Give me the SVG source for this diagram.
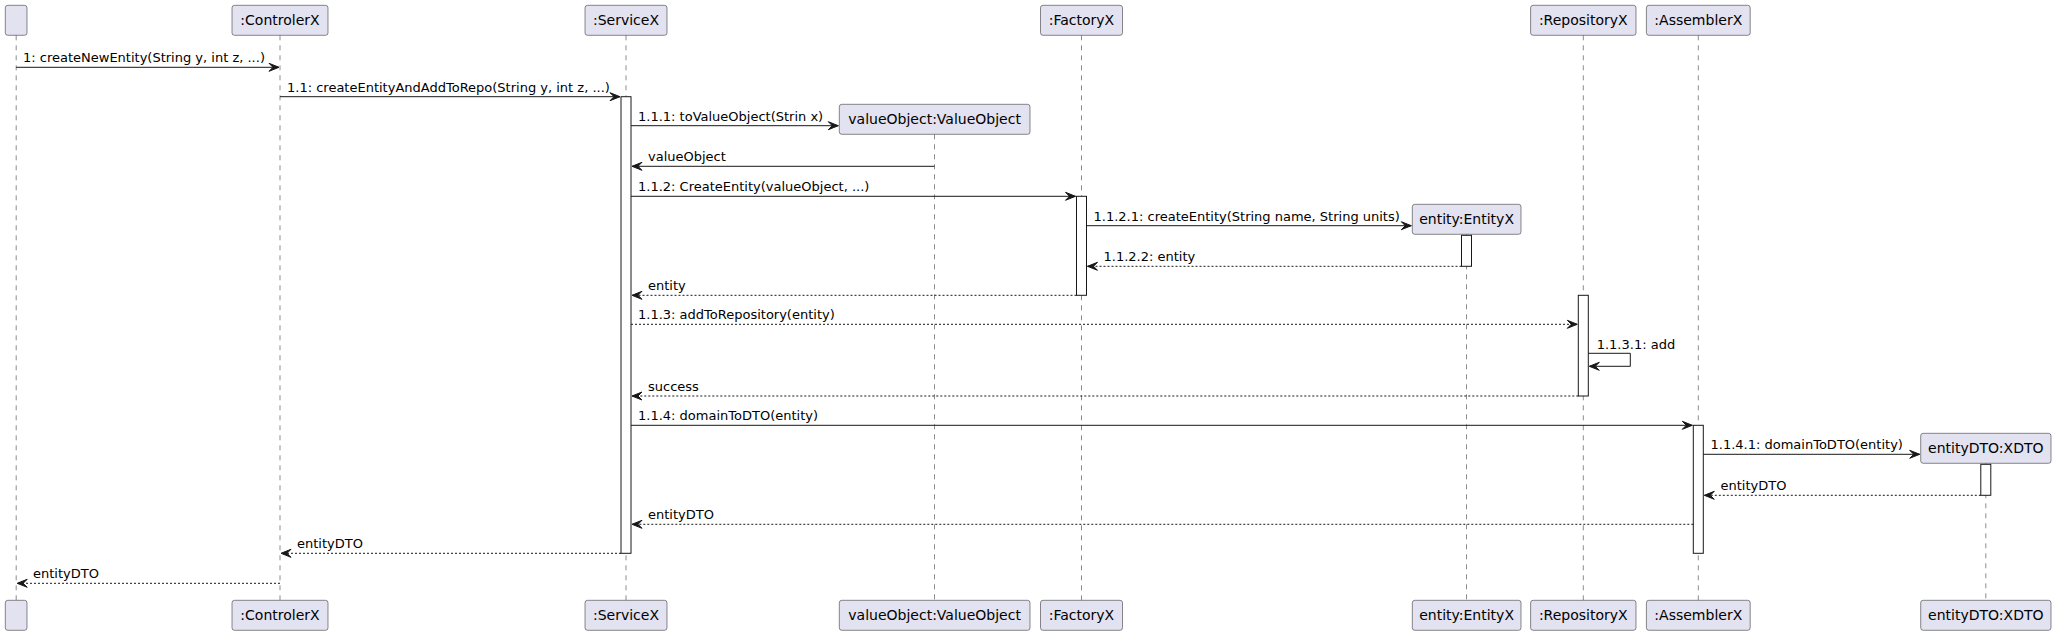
<svg xmlns="http://www.w3.org/2000/svg" width="2056" height="635" viewBox="0 0 2056 635">
<style>
.bg{fill:#FFFFFF}
.part rect{fill:#E2E2F0;stroke:#181818;stroke-width:0.5}
.part text,.plabel{font-family:"DejaVu Sans",sans-serif;font-size:14px;fill:#000000;text-anchor:middle}
.life{stroke:#181818;stroke-width:0.5;stroke-dasharray:5,5;fill:none}
.act{fill:#FFFFFF;stroke:#181818;stroke-width:1}
.msg{stroke:#181818;stroke-width:1;fill:none}
.ret{stroke:#181818;stroke-width:1;fill:none;stroke-dasharray:2,2}
.head{fill:#181818;stroke:#181818;stroke-width:1}
.mt{font-family:"DejaVu Sans",sans-serif;font-size:13px;fill:#000000}
</style>
<rect class="bg" x="0" y="0" width="2056" height="635"/>
<g id="lifelines">
<line class="life" x1="16.2" y1="35.3" x2="16.2" y2="600.3"/>
<line class="life" x1="280" y1="35.3" x2="280" y2="600.3"/>
<line class="life" x1="626" y1="35.3" x2="626" y2="600.3"/>
<line class="life" x1="934.5" y1="134.3" x2="934.5" y2="600.3"/>
<line class="life" x1="1081.5" y1="35.3" x2="1081.5" y2="600.3"/>
<line class="life" x1="1466.5" y1="234.3" x2="1466.5" y2="600.3"/>
<line class="life" x1="1583.3" y1="35.3" x2="1583.3" y2="600.3"/>
<line class="life" x1="1698.3" y1="35.3" x2="1698.3" y2="600.3"/>
<line class="life" x1="1985.8" y1="463.3" x2="1985.8" y2="600.3"/>
</g>
<g id="activations">
<rect class="act" x="621" y="96.7" width="10" height="456.6"/>
<rect class="act" x="1076.5" y="196.3" width="10" height="99"/>
<rect class="act" x="1461.5" y="235.3" width="10" height="31"/>
<rect class="act" x="1578.3" y="295.3" width="10" height="100.7"/>
<rect class="act" x="1693.3" y="425.3" width="10" height="128"/>
<rect class="act" x="1980.8" y="464.3" width="10" height="31"/>
</g>
<g id="p0" class="part">
<rect x="5.3" y="5.3" width="21.7" height="30" rx="2.5"/>
<rect x="5.3" y="600.3" width="21.7" height="30" rx="2.5"/>
</g>
<g id="controlerX" class="part">
<rect x="232" y="5.3" width="96" height="30" rx="2.5"/>
<text x="280" y="25.3">:ControlerX</text>
<rect x="232" y="600.3" width="96" height="30" rx="2.5"/>
<text x="280" y="620.3">:ControlerX</text>
</g>
<g id="serviceX" class="part">
<rect x="585" y="5.3" width="82" height="30" rx="2.5"/>
<text x="626" y="25.3">:ServiceX</text>
<rect x="585" y="600.3" width="82" height="30" rx="2.5"/>
<text x="626" y="620.3">:ServiceX</text>
</g>
<g id="valueObject" class="part">
<rect x="839.3" y="104.3" width="190.7" height="30" rx="2.5"/>
<text x="934.6" y="124.3">valueObject:ValueObject</text>
<rect x="839.3" y="600.3" width="190.7" height="30" rx="2.5"/>
<text x="934.6" y="620.3">valueObject:ValueObject</text>
</g>
<g id="factoryX" class="part">
<rect x="1040.5" y="5.3" width="82" height="30" rx="2.5"/>
<text x="1081.5" y="25.3">:FactoryX</text>
<rect x="1040.5" y="600.3" width="82" height="30" rx="2.5"/>
<text x="1081.5" y="620.3">:FactoryX</text>
</g>
<g id="entity" class="part">
<rect x="1412.3" y="204.3" width="108.7" height="30" rx="2.5"/>
<text x="1466.6" y="224.3">entity:EntityX</text>
<rect x="1412.3" y="600.3" width="108.7" height="30" rx="2.5"/>
<text x="1466.6" y="620.3">entity:EntityX</text>
</g>
<g id="repositoryX" class="part">
<rect x="1530.6" y="5.3" width="105.4" height="30" rx="2.5"/>
<text x="1583.3" y="25.3">:RepositoryX</text>
<rect x="1530.6" y="600.3" width="105.4" height="30" rx="2.5"/>
<text x="1583.3" y="620.3">:RepositoryX</text>
</g>
<g id="assemblerX" class="part">
<rect x="1646.4" y="5.3" width="103.8" height="30" rx="2.5"/>
<text x="1698.3" y="25.3">:AssemblerX</text>
<rect x="1646.4" y="600.3" width="103.8" height="30" rx="2.5"/>
<text x="1698.3" y="620.3">:AssemblerX</text>
</g>
<g id="entityDTO" class="part">
<rect x="1920.7" y="433.3" width="130.3" height="30" rx="2.5"/>
<text x="1985.8" y="453.3">entityDTO:XDTO</text>
<rect x="1920.7" y="600.3" width="130.3" height="30" rx="2.5"/>
<text x="1985.8" y="620.3">entityDTO:XDTO</text>
</g>
<g id="connectors">
<!-- 1 -->
<line class="msg" x1="16.2" y1="67.3" x2="279" y2="67.3"/>
<polygon class="head" points="269,63.3 279,67.3 269,71.3 273,67.3"/>
<text class="mt" x="23" y="62.3">1: createNewEntity(String y, int z, ...)</text>
<!-- 1.1 -->
<line class="msg" x1="280" y1="96.7" x2="620" y2="96.7"/>
<polygon class="head" points="610,92.7 620,96.7 610,100.7 614,96.7"/>
<text class="mt" x="287" y="91.7">1.1: createEntityAndAddToRepo(String y, int z, ...)</text>
<!-- 1.1.1 -->
<line class="msg" x1="631" y1="125.7" x2="838.3" y2="125.7"/>
<polygon class="head" points="828.3,121.7 838.3,125.7 828.3,129.7 832.3,125.7"/>
<text class="mt" x="638" y="120.7">1.1.1: toValueObject(Strin x)</text>
<!-- valueObject return -->
<line class="msg" x1="934.5" y1="166.3" x2="632" y2="166.3"/>
<polygon class="head" points="642,162.3 632,166.3 642,170.3 638,166.3"/>
<text class="mt" x="648" y="161.3">valueObject</text>
<!-- 1.1.2 -->
<line class="msg" x1="631" y1="196.3" x2="1075.5" y2="196.3"/>
<polygon class="head" points="1065.5,192.3 1075.5,196.3 1065.5,200.3 1069.5,196.3"/>
<text class="mt" x="638" y="191.3">1.1.2: CreateEntity(valueObject, ...)</text>
<!-- 1.1.2.1 -->
<line class="msg" x1="1086.5" y1="225.7" x2="1411.3" y2="225.7"/>
<polygon class="head" points="1401.3,221.7 1411.3,225.7 1401.3,229.7 1405.3,225.7"/>
<text class="mt" x="1093.5" y="220.7">1.1.2.1: createEntity(String name, String units)</text>
<!-- 1.1.2.2 -->
<line class="ret" x1="1461.5" y1="266.3" x2="1087.5" y2="266.3"/>
<polygon class="head" points="1097.5,262.3 1087.5,266.3 1097.5,270.3 1093.5,266.3"/>
<text class="mt" x="1103.5" y="261.3">1.1.2.2: entity</text>
<!-- entity -->
<line class="ret" x1="1076.5" y1="295.3" x2="632" y2="295.3"/>
<polygon class="head" points="642,291.3 632,295.3 642,299.3 638,295.3"/>
<text class="mt" x="648" y="290.3">entity</text>
<!-- 1.1.3 -->
<line class="ret" x1="631" y1="324.3" x2="1577.3" y2="324.3"/>
<polygon class="head" points="1567.3,320.3 1577.3,324.3 1567.3,328.3 1571.3,324.3"/>
<text class="mt" x="638" y="319.3">1.1.3: addToRepository(entity)</text>
<!-- 1.1.3.1 self -->
<polyline class="msg" points="1588.3,353.3 1630.3,353.3 1630.3,366.3 1589.3,366.3"/>
<polygon class="head" points="1599.3,362.3 1589.3,366.3 1599.3,370.3 1595.3,366.3"/>
<text class="mt" x="1596.7" y="348.5">1.1.3.1: add</text>
<!-- success -->
<line class="ret" x1="1578.3" y1="396" x2="632" y2="396"/>
<polygon class="head" points="642,392 632,396 642,400 638,396"/>
<text class="mt" x="648" y="391">success</text>
<!-- 1.1.4 -->
<line class="msg" x1="631" y1="425.3" x2="1692.3" y2="425.3"/>
<polygon class="head" points="1682.3,421.3 1692.3,425.3 1682.3,429.3 1686.3,425.3"/>
<text class="mt" x="638" y="420.3">1.1.4: domainToDTO(entity)</text>
<!-- 1.1.4.1 -->
<line class="msg" x1="1703.3" y1="454.3" x2="1919.7" y2="454.3"/>
<polygon class="head" points="1909.7,450.3 1919.7,454.3 1909.7,458.3 1913.7,454.3"/>
<text class="mt" x="1710.5" y="449.3">1.1.4.1: domainToDTO(entity)</text>
<!-- entityDTO return 1 -->
<line class="ret" x1="1980.8" y1="495.3" x2="1704.3" y2="495.3"/>
<polygon class="head" points="1714.3,491.3 1704.3,495.3 1714.3,499.3 1710.3,495.3"/>
<text class="mt" x="1720.5" y="490.3">entityDTO</text>
<!-- entityDTO return 2 -->
<line class="ret" x1="1693.3" y1="524.3" x2="632" y2="524.3"/>
<polygon class="head" points="642,520.3 632,524.3 642,528.3 638,524.3"/>
<text class="mt" x="648" y="519.3">entityDTO</text>
<!-- entityDTO return 3 -->
<line class="ret" x1="621" y1="553.3" x2="281" y2="553.3"/>
<polygon class="head" points="291,549.3 281,553.3 291,557.3 287,553.3"/>
<text class="mt" x="297" y="548.3">entityDTO</text>
<!-- entityDTO return 4 -->
<line class="ret" x1="280" y1="583.3" x2="17.2" y2="583.3"/>
<polygon class="head" points="27.2,579.3 17.2,583.3 27.2,587.3 23.2,583.3"/>
<text class="mt" x="33" y="578.3">entityDTO</text>
</g>
</svg>
